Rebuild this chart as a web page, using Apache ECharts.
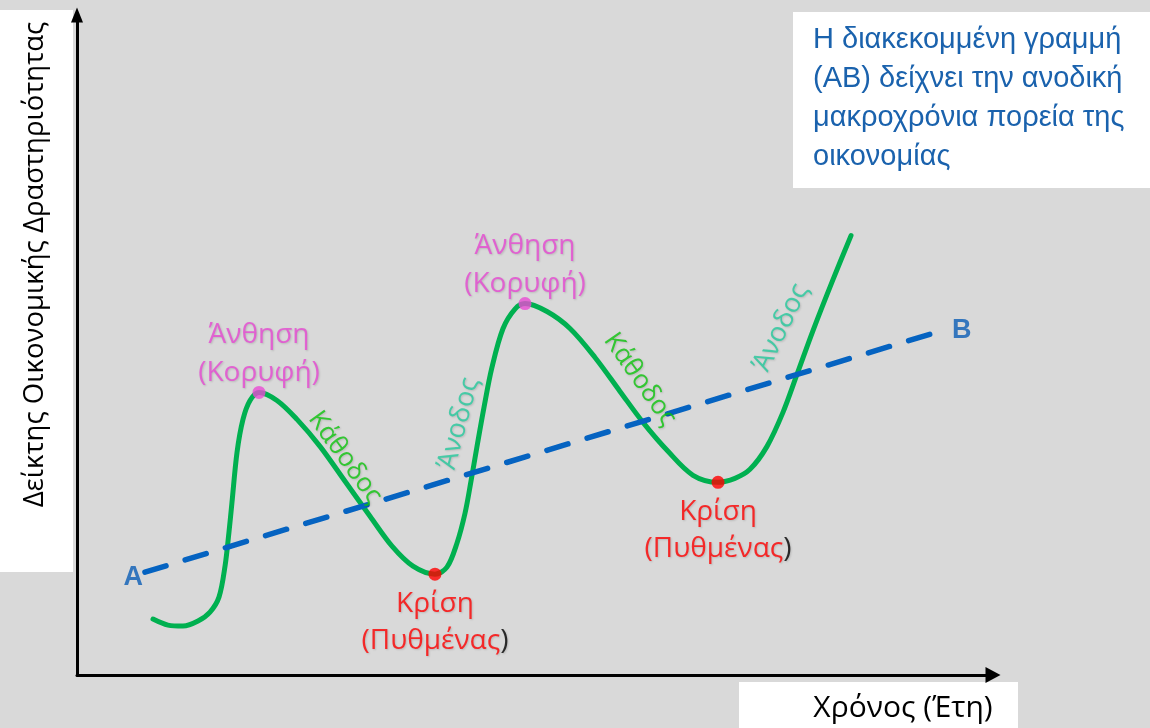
<!DOCTYPE html>
<html>
<head>
<meta charset="utf-8">
<script src="https://cdn.jsdelivr.net/npm/echarts@6/dist/echarts.min.js"></script>
<style>
html,body{margin:0;padding:0;background:#d9d9d9;}
#c{width:1150px;height:728px;}
</style>
</head>
<body>
<div id="c"></div>
<script>
// ---- Data (time units 0..100, activity index 0..100) ----
const cycleX = [8.30, 9.93, 11.57, 13.21, 14.52, 15.50, 16.16, 16.59, 16.92, 17.47, 18.12, 18.89, 19.87,
  21.83, 24.02, 26.53, 29.26, 31.99, 34.39, 36.68, 39.08,
  40.39, 41.48, 42.36, 43.01, 43.67, 44.43, 45.30, 46.51, 47.81, 48.91,
  51.31, 53.82, 56.55, 59.28, 61.79, 64.52, 67.25, 69.98,
  71.83, 73.47, 75.33, 77.07, 78.60, 80.35, 82.53, 84.50];
const cycleY = [8.47, 7.56, 7.41, 8.17, 9.53, 11.80, 16.49, 21.63, 26.17, 33.74, 38.73, 41.60, 42.81,
  41.60, 38.73, 34.64, 29.35, 24.05, 19.52, 16.49, 15.28,
  16.34, 19.97, 24.51, 29.35, 34.64, 40.54, 46.60, 52.50, 55.45, 56.28,
  55.07, 52.50, 48.11, 42.97, 38.28, 33.89, 30.26, 29.20,
  29.80, 31.16, 34.64, 39.79, 45.54, 52.19, 59.91, 66.57];

const trendX = [7.42, 94.43];
const trendY = [15.58, 52.19];
const trendNames = ['A', 'B'];

const peakX = [19.87, 48.91];
const peakY = [42.81, 56.28];
const troughX = [39.08, 69.98];
const troughY = [15.28, 29.20];

const peakText = ['Άνθηση', '(Κορυφή)'];
const troughText = ['Κρίση', '(Πυθμένας', ')'];

const downX = [29.26, 61.46];
const downY = [32.98, 44.78];
const downAngle = [-54, -55];
const downText = 'Κάθοδος';

const upX = [41.70, 76.86];
const upY = [38.12, 52.65];
const upAngle = [75, 64];
const upText = 'Άνοδος';

const yTitle = 'Δείκτης Οικονομικής Δραστηριότητας';
const xTitle = 'Χρόνος (Έτη)';
const noteLines = ['Η διακεκομμένη γραμμή', '(AB) δείχνει την ανοδική', 'μακροχρόνια πορεία της', 'οικονομίας'];

// ---- Build ----
const pair = (xs, ys) => xs.map((x, i) => [x, ys[i]]);
const shadow = {textShadowColor: 'rgba(0,0,0,0.18)', textShadowBlur: 2, textShadowOffsetX: 1, textShadowOffsetY: 1};
const labelFont = '"Open Sans", "Noto Sans", sans-serif';

const chart = echarts.init(document.getElementById('c'), null, {renderer: 'canvas'});
chart.setOption({
  backgroundColor: '#d9d9d9',
  animation: false,
  grid: {left: 77, right: 157, top: 15, bottom: 52},
  graphic: [
    {type: 'rect', z: -1, shape: {x: 0, y: 10, width: 73, height: 562}, style: {fill: '#ffffff'}},
    {type: 'rect', z: -1, shape: {x: 739, y: 682, width: 279, height: 46}, style: {fill: '#ffffff'}},
    {type: 'rect', z: -1, shape: {x: 793, y: 12, width: 357, height: 176}, style: {fill: '#ffffff'}},
    {type: 'text', z: 1, x: 813, y: 20, style: {
      text: noteLines.join('\n'), fill: '#1a62ad', fontSize: 29,
      fontFamily: '"Liberation Sans", Arial, sans-serif', lineHeight: 39, verticalAlign: 'top'}}
  ],
  xAxis: {
    type: 'value', min: 0, max: 100, z: 10,
    name: xTitle, nameLocation: 'middle', nameGap: 18,
    nameTextStyle: {fontSize: 30, color: '#000', fontFamily: labelFont, padding: [0, 0, 0, 736]},
    axisLine: {show: true, symbol: ['none', 'triangle'], symbolSize: [16, 15], lineStyle: {color: '#000', width: 3}},
    axisTick: {show: false}, axisLabel: {show: false}, splitLine: {show: false}
  },
  yAxis: {
    type: 'value', min: 0, max: 100, z: 10,
    name: yTitle, nameLocation: 'middle', nameGap: 28, nameRotate: 90,
    nameTextStyle: {fontSize: 27.5, color: '#000', fontFamily: labelFont, padding: [0, 0, 0, 161]},
    axisLine: {show: true, symbol: ['none', 'triangle'], symbolSize: [12, 15], lineStyle: {color: '#000', width: 3}},
    axisTick: {show: false}, axisLabel: {show: false}, splitLine: {show: false}
  },
  series: [
    {
      type: 'line', name: 'cycle', data: pair(cycleX, cycleY), smooth: 0.33, showSymbol: false, z: 2,
      lineStyle: {color: '#00b050', width: 5, cap: 'round', join: 'round'}
    },
    {
      type: 'line', name: 'trend', data: pair(trendX, trendY), showSymbol: false, z: 3,
      lineStyle: {color: '#0563c1', width: 5.5, type: [22, 20], cap: 'round'}
    },
    {
      type: 'scatter', name: 'trendLabels', z: 4, symbolSize: 0,
      data: pair(trendX, trendY).map((p, i) => ({value: p, name: trendNames[i],
        label: {position: i === 0 ? 'left' : 'right', distance: i === 0 ? 2 : 10, offset: i === 0 ? [0, 5] : [0, 0]}})),
      label: {show: true, formatter: '{b}', color: '#0a5cb5', fontSize: 27, fontWeight: 'bold', fontFamily: '"Liberation Sans", Arial, sans-serif'}
    },
    {
      type: 'scatter', name: 'phaseDown', z: 5, symbolSize: 0,
      data: pair(downX, downY).map((p, i) => ({value: p, label: {rotate: downAngle[i]}})),
      label: {show: true, position: 'inside', formatter: downText, color: '#0cc40c', fontSize: 26, fontFamily: labelFont, ...shadow}
    },
    {
      type: 'scatter', name: 'phaseUp', z: 5, symbolSize: 0,
      data: pair(upX, upY).map((p, i) => ({value: p, label: {rotate: upAngle[i]}})),
      label: {show: true, position: 'inside', formatter: upText, color: '#24c99c', fontSize: 27, fontFamily: labelFont, ...shadow}
    },
    {
      type: 'scatter', name: 'peaks', z: 6, symbol: 'circle', symbolSize: 13,
      itemStyle: {color: '#e84bd3'},
      data: pair(peakX, peakY),
      label: {show: true, position: 'top', distance: 0, offset: [0, 6],
        formatter: '{p|' + peakText[0] + '}\n{p|' + peakText[1] + '}',
        rich: {p: {color: '#e648d2', fontSize: 28, lineHeight: 38, fontFamily: labelFont, ...shadow}}}
    },
    {
      type: 'scatter', name: 'troughs', z: 6, symbol: 'circle', symbolSize: 13,
      itemStyle: {color: '#ff0000'},
      data: pair(troughX, troughY),
      label: {show: true, position: 'bottom', distance: 5,
        formatter: '{r|' + troughText[0] + '}\n{r|' + troughText[1] + '}{k|' + troughText[2] + '}',
        rich: {
          r: {color: '#ff0000', fontSize: 28, lineHeight: 37, fontFamily: labelFont, ...shadow},
          k: {color: '#000000', fontSize: 28, lineHeight: 37, fontFamily: labelFont, ...shadow}
        }}
    }
  ]
});
</script>
</body>
</html>
